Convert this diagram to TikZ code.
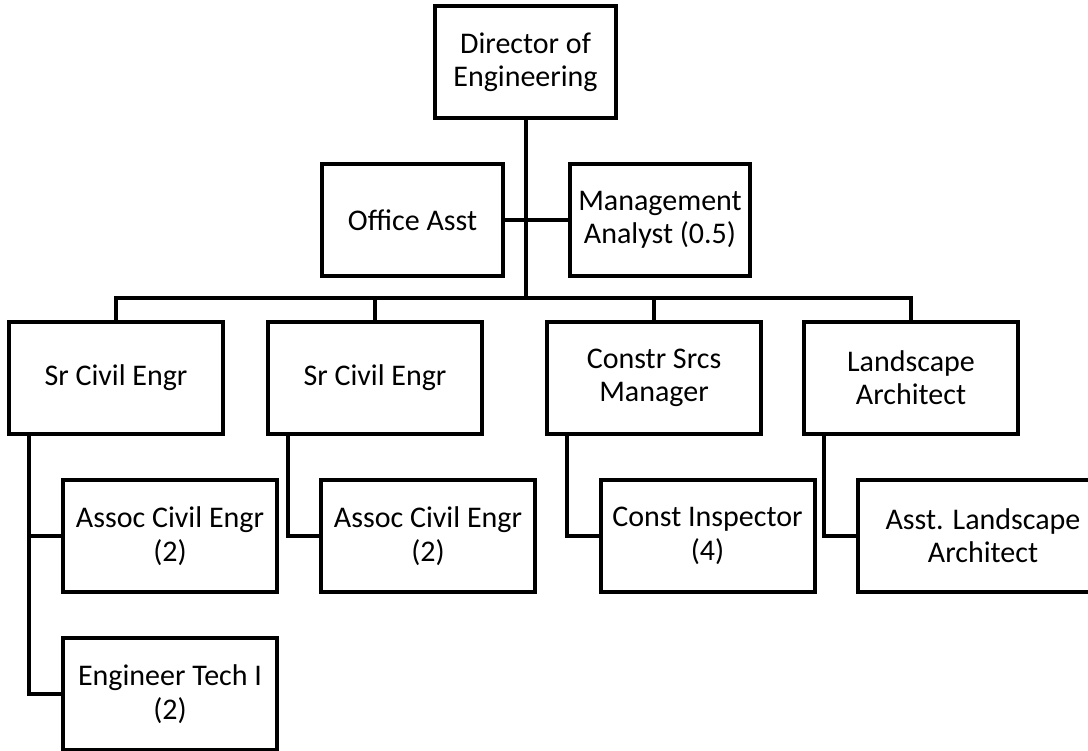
\documentclass[tikz,border=0pt]{standalone}
\usepackage{fontspec}
\setmainfont{Carlito}
\usetikzlibrary{positioning}

\begin{document}
\begin{tikzpicture}[x=0.75pt,y=-0.75pt,
    box/.style={draw,line width=3pt,align=center,minimum width=160.5pt,minimum height=84pt,
      inner sep=2pt,font=\fontsize{22.5}{25}\selectfont},
    topbox/.style={box,minimum width=135.5pt},
    link/.style={line width=3pt}]
    \useasboundingbox (0,0) rectangle (1088,750);

    \node[topbox] (dir)    at (525.5,62) {Director of\\Engineering};
    \node[topbox] (office) at (412.5,220) {Office Asst};
    \node[topbox] (mgmt)   at (660,220) {Management\\Analyst (0.5)};

    \node[box] (sr1)    at (116,378) {Sr Civil Engr};
    \node[box] (sr2)    at (375,378) {Sr Civil Engr};
    \node[box] (constr) at (654,378) {Constr Srcs\\Manager};
    \node[box] (land)   at (911,378) {Landscape\\Architect};

    \node[box] (assoc1)  at (170,536) {Assoc Civil Engr\\(2)};
    \node[box] (tech)    at (170,694) {Engineer Tech I\\(2)};
    \node[box] (assoc2)  at (428,536) {Assoc Civil Engr\\(2)};
    \node[box] (insp)    at (707.5,536) {Const Inspector\\(4)};
    \node[box,minimum width=187.5pt] (asstland) at (983,536) {Asst. Landscape\\Architect};

    \coordinate (bus) at (0,298);

    \draw[link] (dir.south) -- (dir.south |- bus);
    \draw[link] (office.east) -- (mgmt.west);
    \draw[link] (sr1.north) |- (land.north |- bus) -- (land.north);
    \draw[link] (sr2.north) -- (sr2.north |- bus);
    \draw[link] (constr.north) -- (constr.north |- bus);

    \draw[link] ([xshift=16.5pt]sr1.south west) |- (tech.west);
    \draw[link] ([xshift=16.5pt]sr1.south west) |- (assoc1.west);
    \draw[link] ([xshift=16.5pt]sr2.south west) |- (assoc2.west);
    \draw[link] ([xshift=16.5pt]constr.south west) |- (insp.west);
    \draw[link] ([xshift=16.5pt]land.south west) |- (asstland.west);
\end{tikzpicture}
\end{document}
